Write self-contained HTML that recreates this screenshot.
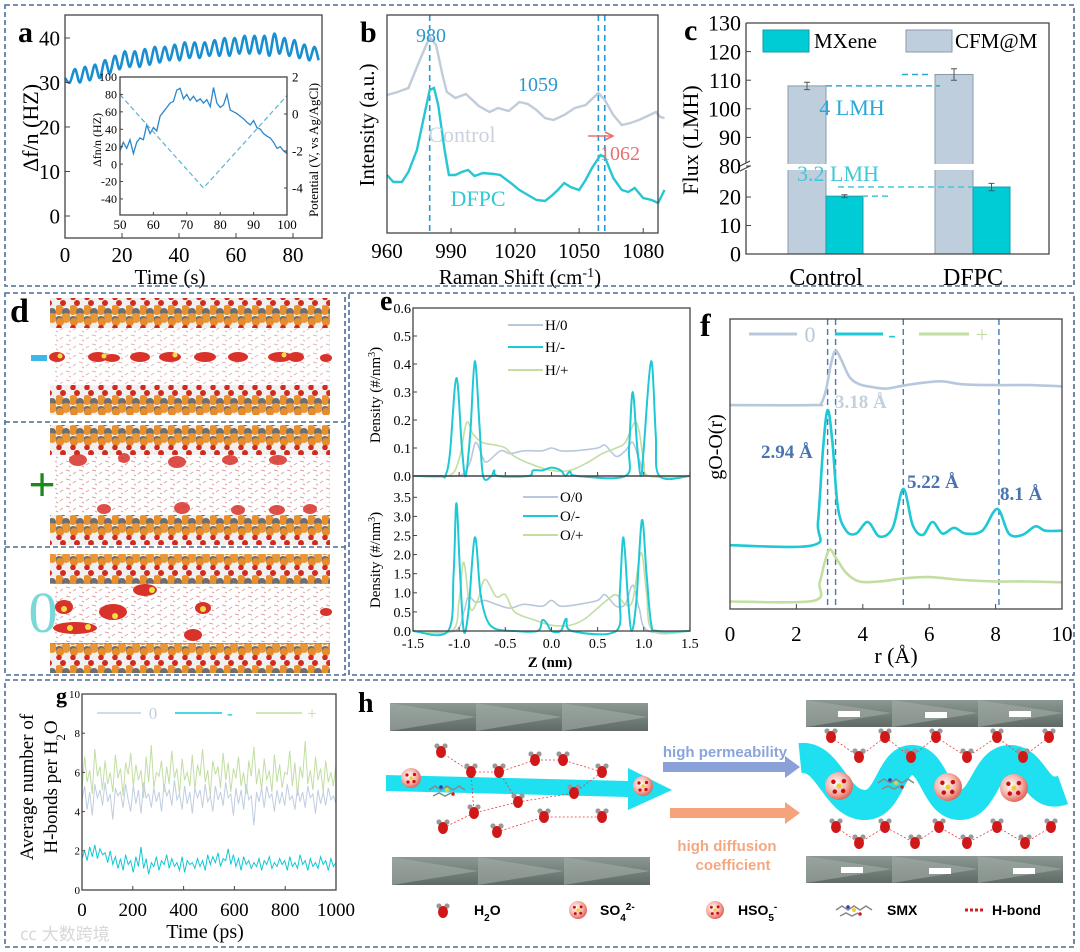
<!DOCTYPE html>
<html><head><meta charset="utf-8"><style>
html,body{margin:0;padding:0;background:#fff}
svg{display:block}
text{font-family:"Liberation Serif",serif}
.sans{font-family:"Liberation Sans",sans-serif}
</style></head><body>
<svg id="s" width="1080" height="952" viewBox="0 0 1080 952" xmlns="http://www.w3.org/2000/svg">
<defs>
<pattern id="mx" width="14" height="30" patternUnits="userSpaceOnUse">
<rect width="14" height="30" fill="#f0f0f0"/>
<circle cx="7" cy="3" r="3" fill="#d42a1e"/>
<circle cx="3" cy="10" r="5" fill="#e8902e"/>
<circle cx="10" cy="12" r="4" fill="#6e6e6e"/>
<circle cx="10" cy="18" r="5" fill="#ea9634"/>
<circle cx="3" cy="20" r="4" fill="#707070"/>
<circle cx="4" cy="22" r="4" fill="#e68c2c"/>
<circle cx="3" cy="27.5" r="2.8" fill="#d42a1e"/>
</pattern>
<pattern id="wat" width="13" height="9" patternUnits="userSpaceOnUse">
<path d="M1,2 l4,1 M8,6 l3,-2 M4,7 l2,1" stroke="#e0a0a0" stroke-width="1"/>
</pattern>
<linearGradient id="slab" x1="0" y1="0" x2="0" y2="1"><stop offset="0" stop-color="#8c9892"/><stop offset="1" stop-color="#5f6a66"/></linearGradient>
<radialGradient id="sph" cx="0.4" cy="0.4" r="0.6"><stop offset="0" stop-color="#fff"/><stop offset="0.6" stop-color="#f5b6ae"/><stop offset="1" stop-color="#e06a5c"/></radialGradient>
</defs>
<g id="frames" fill="none" stroke="#4f6d94" stroke-width="1.6" stroke-dasharray="5,3">
<rect x="5" y="5" width="1069" height="281"/>
<rect x="5" y="293" width="340" height="382"/>
<line x1="5" y1="422" x2="345" y2="422"/>
<line x1="5" y1="547" x2="345" y2="547"/>
<rect x="349" y="293" width="725" height="382"/>
<rect x="5" y="680" width="1069" height="267"/>
</g>
<text x="18" y="42" font-size="30" font-weight="bold">a</text>
<text x="360" y="42" font-size="30" font-weight="bold">b</text>
<text x="684" y="40" font-size="30" font-weight="bold">c</text>
<text x="10" y="322" font-size="34" font-weight="bold">d</text>
<text x="380" y="310" font-size="28" font-weight="bold">e</text>
<text x="700" y="336" font-size="32" font-weight="bold">f</text>
<text x="56" y="703" font-size="22" font-weight="bold">g</text>
<text x="358" y="712" font-size="28" font-weight="bold">h</text>

<text transform="translate(38,128) rotate(-90)" text-anchor="middle" font-size="22">Δf/n (HZ)</text>
<text x="170" y="284" text-anchor="middle" font-size="21">Time (s)</text>
<text transform="translate(374,125) rotate(-90)" text-anchor="middle" font-size="21">Intensity (a.u.)</text>
<text x="520" y="284" text-anchor="middle" font-size="21">Raman Shift (cm<tspan baseline-shift="super" font-size="14">-1</tspan>)</text>
<text transform="translate(698,140) rotate(-90)" text-anchor="middle" font-size="22">Flux (LMH)</text>
<text transform="translate(380,395) rotate(-90)" text-anchor="middle" font-size="15">Density (#/nm<tspan baseline-shift="super" font-size="10">3</tspan>)</text>
<text transform="translate(380,560) rotate(-90)" text-anchor="middle" font-size="15">Density (#/nm<tspan baseline-shift="super" font-size="10">3</tspan>)</text>
<text x="550" y="667" text-anchor="middle" font-size="15" font-weight="bold">Z (nm)</text>
<text transform="translate(722,447) rotate(-90)" text-anchor="middle" font-size="20">gO-O(r)</text>
<text x="896" y="663" text-anchor="middle" font-size="22">r (Å)</text>
<text transform="translate(33,787) rotate(-90)" text-anchor="middle" font-size="19">Average number of</text>
<text transform="translate(57,787) rotate(-90)" text-anchor="middle" font-size="19">H-bonds per H<tspan baseline-shift="sub" font-size="13">2</tspan>O</text>
<text x="205" y="938" text-anchor="middle" font-size="20">Time (ps)</text>
<text x="20" y="940" font-size="17" fill="#d8d8d8" class="sans">㏄ 大数跨境</text>

<g id="pd">
<rect x="55" y="328" width="275" height="56" fill="url(#wat)" opacity="0.8"/>
<rect x="55" y="456" width="275" height="58" fill="url(#wat)"/>
<rect x="55" y="586" width="275" height="56" fill="url(#wat)"/>
<rect x="50" y="298" width="280" height="30" fill="url(#mx)"/>
<rect x="50" y="385" width="280" height="30" fill="url(#mx)"/>
<rect x="50" y="425" width="280" height="30" fill="url(#mx)"/>
<rect x="50" y="515" width="280" height="30" fill="url(#mx)"/>
<rect x="50" y="554" width="280" height="30" fill="url(#mx)"/>
<rect x="50" y="643" width="280" height="30" fill="url(#mx)"/>
<g fill="#d8322a">
<ellipse cx="57" cy="357" rx="8" ry="5"/><ellipse cx="98" cy="357" rx="10" ry="5"/><ellipse cx="112" cy="358" rx="8" ry="4"/>
<ellipse cx="140" cy="357" rx="10" ry="5"/><ellipse cx="170" cy="357" rx="11" ry="5"/><ellipse cx="205" cy="357" rx="11" ry="5"/>
<ellipse cx="238" cy="357" rx="10" ry="5"/><ellipse cx="280" cy="357" rx="12" ry="5"/><ellipse cx="296" cy="357" rx="8" ry="5"/><ellipse cx="326" cy="358" rx="6" ry="4"/>
</g>
<g fill="#f0e040"><circle cx="60" cy="356" r="2.5"/><circle cx="104" cy="356" r="2.5"/><circle cx="175" cy="355" r="2.5"/><circle cx="284" cy="355" r="2.5"/></g>
<rect x="31" y="355" width="16" height="6" fill="#3cb8e8"/>
<g fill="#d8322a" opacity="0.85">
<ellipse cx="78" cy="460" rx="9" ry="6"/><ellipse cx="124" cy="458" rx="6" ry="5"/><ellipse cx="177" cy="462" rx="9" ry="6"/><ellipse cx="230" cy="460" rx="8" ry="5"/><ellipse cx="278" cy="460" rx="9" ry="5"/>
<ellipse cx="104" cy="509" rx="7" ry="5"/><ellipse cx="182" cy="508" rx="8" ry="6"/><ellipse cx="238" cy="510" rx="7" ry="5"/><ellipse cx="277" cy="510" rx="8" ry="5"/><ellipse cx="310" cy="509" rx="7" ry="5"/>
</g>
<text x="42" y="500" text-anchor="middle" font-size="46" fill="#1a8a1a" class="sans">+</text>
<g>
<ellipse cx="145" cy="590" rx="12" ry="6" fill="#d8322a"/><circle cx="152" cy="590" r="3" fill="#f0e040"/>
<ellipse cx="64" cy="607" rx="9" ry="7" fill="#d8322a"/><circle cx="64" cy="609" r="3" fill="#f0e040"/>
<ellipse cx="113" cy="612" rx="14" ry="8" fill="#d8322a"/><circle cx="115" cy="616" r="3" fill="#f0e040"/>
<ellipse cx="203" cy="608" rx="8" ry="6" fill="#d8322a"/><circle cx="203" cy="609" r="3" fill="#f0e040"/>
<ellipse cx="75" cy="628" rx="22" ry="6" fill="#d8322a"/><circle cx="70" cy="628" r="3" fill="#f0e040"/><circle cx="88" cy="627" r="3" fill="#f0e040"/>
<ellipse cx="193" cy="635" rx="9" ry="6" fill="#d8322a"/><ellipse cx="326" cy="612" rx="6" ry="4" fill="#d8322a"/>
</g>
<text x="43" y="632" text-anchor="middle" font-size="58" fill="#7ad8d8">0</text>
</g>

<g id="ph">
<g><rect x="390" y="703" width="258" height="28" fill="url(#slab)"/><path d="M390,703 L476,717 L390,731Z M476,703 L562,717 L476,731Z M562,703 L648,717 L562,731Z" fill="#a3ada8" opacity="0.6"/></g>
<g><rect x="392" y="857" width="258" height="28" fill="url(#slab)"/><path d="M392,857 L478,871 L392,885Z M478,857 L564,871 L478,885Z M564,857 L650,871 L564,885Z" fill="#a3ada8" opacity="0.6"/></g>
<g><rect x="806" y="700" width="257" height="27" fill="url(#slab)"/><path d="M806,700 L892,713 L806,727Z M892,700 L978,713 L892,727Z M978,700 L1063,713 L978,727Z" fill="#a3ada8" opacity="0.6"/>
<rect x="838" y="711" width="22" height="6" fill="#fff"/><rect x="925" y="712" width="22" height="6" fill="#fff"/><rect x="1009" y="711" width="22" height="6" fill="#fff"/></g>
<g><rect x="806" y="856" width="257" height="27" fill="url(#slab)"/><path d="M806,856 L892,869 L806,883Z M892,856 L978,869 L892,883Z M978,856 L1063,869 L978,883Z" fill="#a3ada8" opacity="0.6"/>
<rect x="841" y="867" width="22" height="6" fill="#fff"/><rect x="929" y="868" width="22" height="6" fill="#fff"/><rect x="1013" y="868" width="22" height="6" fill="#fff"/></g>
<path d="M386,775 L628,781 L628,768 L672,790 L628,810 L628,797 L386,791Z" fill="#1ee0f0"/>
<path d="M800,758 C830,755 835,805 865,805 C890,805 890,760 912,760 C935,760 935,805 960,805 C985,805 985,760 1010,760 C1035,760 1035,800 1063,790" fill="none" stroke="#1ee0f0" stroke-width="30"/>
<text x="725" y="757" text-anchor="middle" font-size="15" font-weight="bold" fill="#8aa4dc" class="sans">high permeability</text>
<path d="M663,762 L785,762 L785,756 L800,767 L785,778 L785,772 L663,772Z" fill="#8aa0d8"/>
<path d="M670,808 L785,808 L785,802 L800,813 L785,824 L785,818 L670,818Z" fill="#f4a37c"/>
<text x="727" y="851" text-anchor="middle" font-size="15" font-weight="bold" fill="#f4a882" class="sans">high diffusion</text>
<text x="733" y="870" text-anchor="middle" font-size="15" font-weight="bold" fill="#f4a882" class="sans">coefficient</text>
<g id="hmol"></g>
<g class="sans" font-size="14" font-weight="bold">
<text x="474" y="915" class="sans">H<tspan baseline-shift="sub" font-size="10">2</tspan>O</text>
<text x="600" y="915" class="sans">SO<tspan baseline-shift="sub" font-size="10">4</tspan><tspan baseline-shift="super" font-size="10">2-</tspan></text>
<text x="738" y="915" class="sans">HSO<tspan baseline-shift="sub" font-size="10">5</tspan><tspan baseline-shift="super" font-size="10">-</tspan></text>
<text x="887" y="915" class="sans">SMX</text>
<line x1="965" y1="910" x2="985" y2="910" stroke="#d02020" stroke-width="3" stroke-dasharray="3,2"/>
<text x="992" y="915" class="sans">H-bond</text>
</g>
</g>
<g id="charts"></g>
</svg>
<script>
// ---------- DATA ----------
const aTime=[0,1.7,3.5,5.2,7,8.7,10.5,12.2,14,15.7,17.5,19.2,21,22.7,24.5,26.2,28,29.7,31.5,33.2,35,36.7,38.5,40.2,42,43.7,45.5,47.2,49,50.7,52.5,54.2,56,57.7,59.5,61.2,63,64.7,66.5,68.2,70,71.7,73.5,75.2,77,78.7,80.5,82.2,84,85.7,87.5,89];
const aFreq=[31,30,33,30,33.5,30.5,34,31,35,32,36,33,37,33.5,37,33.5,37.5,34,38,34.5,38,35,38.5,35,39,35.5,39,35.5,39,36,39.5,36,40,36,40,36.5,40.5,36.5,40.5,36.5,40.5,36,41,36.5,40,36,39.5,35.5,38.5,35,38,35];
const insetTime=[50,51,52,53,54,55,56,57,58,59,60,61,62,63,64,65,66,67,68,69,70,71,72,73,74,75,76,77,78,79,80,81,82,83,84,85,86,87,88,89,90,91,92,93,94,95,96,97,98,99,100];
const insetFreq=[15,25,18,28,12,25,30,28,45,35,42,38,55,60,65,70,72,85,87,75,80,73,78,72,75,70,74,66,88,70,65,68,80,62,60,58,55,52,48,45,50,42,40,35,32,30,25,18,20,15,12];
const insetPotTime=[50,75,100];
const insetPotential=[1.05,-4,1.0];
const bShift=[960,965,970,975,980,983,986,988,992,997,1000,1003,1008,1012,1017,1022,1026,1030,1034,1038,1043,1048,1053,1057,1059,1062,1066,1070,1074,1078,1082,1086,1088,1090];
const bControl=[138,141,145,171,196,188,158,141,135,139,133,127,121,125,122,131,129,123,115,113,118,125,128,136,140,133,118,108,110,113,117,121,116,115];
const bShiftD=[960,963,967,970,974,978,980,982,984,987,989,992,995,998,1001,1005,1010,1013,1018,1022,1026,1030,1034,1037,1040,1043,1046,1050,1053,1056,1060,1062,1066,1070,1073,1076,1080,1084,1087,1090];
const bDFPC=[58,51,51,61,83,123,143,145,128,83,58,58,61,63,57,60,59,58,50,43,38,33,32,37,43,50,46,43,53,65,78,76,55,43,41,45,35,33,30,43];
const cGroups=["Control","DFPC"];
const cMXene=[20.3,23.5];
const cMXeneErr=[0.5,1.3];
const cCFM=[108,112];
const cCFMErr=[1.3,2.0];
const eH0z=[-1.05,-0.95,-0.88,-0.82,-0.75,-0.7,-0.55,-0.45,-0.3,-0.1,0,0.1,0.25,0.5,0.58,0.7,0.8,0.88,0.95,1.05];
const eH0=[0,0.01,0.05,0.12,0.07,0.05,0.09,0.08,0.09,0.09,0.1,0.09,0.09,0.1,0.11,0.07,0.09,0.12,0.06,0];
const eHmz=[-1.2,-1.15,-1.1,-1.03,-0.97,-0.93,-0.88,-0.83,-0.78,-0.74,-0.65,-0.62,-0.58,-0.25,-0.2,-0.1,0,0.1,0.15,0.2,0.28,0.8,0.84,0.88,0.93,0.97,1.0,1.08,1.13,1.17];
const eHm=[0,0,0.08,0.35,0.1,0,0.15,0.41,0.18,0,0,0.02,0,0,0.02,0.02,0.03,0.02,0,0.015,0,0,0.1,0.3,0.1,0,0.1,0.41,0.15,0];
const eHpz=[-1.12,-1.0,-0.92,-0.85,-0.75,-0.6,-0.5,-0.4,-0.2,0,0.2,0.4,0.55,0.7,0.8,0.9,0.95,1.0,1.06];
const eHp=[0,0.06,0.19,0.15,0.12,0.11,0.1,0.07,0.04,0.02,0.02,0.05,0.08,0.1,0.12,0.19,0.16,0.05,0];
const eO0z=[-1.05,-0.95,-0.9,-0.82,-0.72,-0.6,-0.45,-0.3,-0.1,0,0.1,0.3,0.5,0.58,0.7,0.8,0.88,0.95,1.05];
const eO0=[0,0.5,0.9,0.75,0.8,0.7,0.6,0.7,0.65,0.8,0.65,0.7,0.8,0.95,0.65,0.7,1.2,0.6,0];
const eOmz=[-1.12,-1.06,-1.03,-0.99,-0.95,-0.9,-0.83,-0.77,-0.7,-0.6,-0.4,-0.15,-0.1,-0.05,0,0.1,0.16,0.22,0.7,0.74,0.78,0.83,0.87,0.92,0.98,1.03,1.08,1.15];
const eOm=[0,1.5,3.35,1.5,0,0.5,2.45,1.0,0.3,0.05,0,0,0.28,0.2,0,0,0.32,0,0,1.0,2.45,0.8,0,0.8,2.9,1.5,0.2,0];
const eOpz=[-1.08,-1.0,-0.95,-0.88,-0.8,-0.72,-0.6,-0.5,-0.4,-0.2,0,0.2,0.35,0.5,0.6,0.7,0.8,0.88,0.97,1.03,1.1];
const eOp=[0,0.8,1.8,0.6,0.8,1.35,0.9,0.95,0.5,0.3,0.15,0.15,0.3,0.6,0.8,0.95,0.7,0.8,2.05,1.0,0];
const fR0=[0,2.5,2.75,2.9,3.05,3.18,3.35,3.6,3.9,4.3,4.7,5.2,5.8,6.4,7,8,9,10];
const fG0=[7.03,7.03,7.1,7.6,8.5,8.9,8.6,8.0,7.75,7.65,7.6,7.7,7.8,7.85,7.75,7.72,7.72,7.68];
const fRm=[0,2.5,2.65,2.8,2.94,3.08,3.25,3.5,3.8,4.15,4.5,4.9,5.22,5.5,5.8,6.1,6.4,6.75,7.1,7.6,8.05,8.4,8.8,9.2,9.5,10];
const fGm=[2.2,2.2,3.0,5.5,6.86,5.8,3.5,2.7,2.6,3.0,2.5,2.8,4.14,2.9,2.55,3.0,2.6,2.8,2.6,2.7,3.45,2.6,2.55,2.85,2.7,2.7];
const fRp=[0,2.5,2.7,2.85,3.0,3.2,3.5,3.9,4.5,5.2,6,7,8,9,10];
const fGp=[0.26,0.28,0.9,1.6,2.05,1.75,1.25,0.95,0.95,1.05,1.1,1.0,0.95,0.95,0.92];
const fPeaks=[2.94,3.18,5.22,8.1];
const gPlus=[5.2,6.8,5.5,6.1,4.9,7.2,5.8,6.3,5.1,6.6,5.4,6.0,5.0,6.9,5.7,6.2,4.8,6.5,5.9,7.0,5.3,6.4,5.6,6.1,4.7,6.8,5.5,7.4,5.2,6.0,5.8,6.6,5.0,6.3,5.4,7.1,5.7,6.2,4.9,6.7,5.6,6.0,5.3,6.9,5.1,6.4,5.8,7.2,5.5,6.1,4.8,6.6,5.9,6.3,5.2,7.0,5.6,6.5,5.0,6.2,5.7,6.8,5.3,6.0,4.9,6.6,5.8,7.3,5.4,6.2,5.1,6.7,5.6,6.1,5.0,6.9,5.5,6.4,5.2,6.0,5.9,7.1,5.3,6.5,4.8,6.3,5.7,7.6,5.4,6.1,5.1,6.8,5.6,6.2,5.0,6.6,5.5,6.0,5.3,6.4];
const gZero=[4.6,5.3,4.1,5.0,3.8,5.4,4.7,5.1,4.3,5.5,4.5,4.9,3.6,5.2,4.8,5.0,4.2,5.4,4.6,4.0,5.3,4.4,5.1,3.9,5.5,4.7,4.9,4.2,5.2,4.5,5.0,4.0,5.4,4.8,5.1,4.3,5.6,4.6,4.9,4.1,5.3,4.4,5.0,3.9,5.2,4.7,5.1,4.2,5.4,4.5,4.8,4.0,5.3,4.6,5.0,4.3,5.5,4.7,4.9,3.8,5.2,4.4,5.1,4.1,5.4,4.6,4.8,3.3,5.0,4.5,5.2,4.2,5.3,4.7,4.9,4.0,5.1,4.4,5.0,4.3,5.4,4.6,4.8,4.1,5.2,4.5,5.0,4.2,5.3,4.7,4.9,3.9,5.1,4.4,5.0,4.3,5.2,4.6,4.8,4.4];
const gMinus=[1.6,2.0,1.5,2.2,1.7,2.3,1.6,2.1,1.8,1.9,1.4,2.0,1.3,1.7,1.1,1.6,1.0,1.8,1.3,1.5,0.9,1.7,1.2,2.2,1.1,1.6,0.8,1.4,1.2,1.7,1.0,1.5,1.3,1.8,1.1,1.6,1.2,1.4,1.0,1.7,0.9,1.5,1.3,1.4,1.1,1.6,1.2,1.5,1.0,1.8,1.3,1.7,1.4,1.9,1.2,1.6,1.5,2.1,1.3,1.8,1.2,1.6,1.0,1.7,1.3,1.5,1.1,1.4,1.2,1.6,1.0,1.5,1.3,1.7,1.1,1.4,1.2,1.6,1.3,1.5,1.0,1.7,1.2,1.4,1.1,1.8,1.3,1.5,1.0,1.6,1.2,1.4,1.1,1.7,1.3,1.5,1.0,1.6,1.2,1.4];

// ---------- HELPERS ----------
const NS="http://www.w3.org/2000/svg";
const root=document.getElementById('charts');
function mk(tag,attrs,parent){const el=document.createElementNS(NS,tag);for(const k in attrs)el.setAttribute(k,attrs[k]);(parent||root).appendChild(el);return el;}
function txt(x,y,s,size,anchor,parent,extra){const t=mk('text',Object.assign({x:x,y:y,'font-size':size,'text-anchor':anchor||'middle'},extra||{}),parent);t.textContent=s;return t;}
function smoothD(xs,ys,sx,sy){const p=xs.map((x,i)=>[sx(x),sy(ys[i])]);const n=p.length;let d='M'+p[0][0].toFixed(1)+','+p[0][1].toFixed(1);
 for(let i=0;i<n-1;i++){const p0=p[Math.max(i-1,0)],p1=p[i],p2=p[i+1],p3=p[Math.min(i+2,n-1)];
 const c1=[p1[0]+(p2[0]-p0[0])/6,p1[1]+(p2[1]-p0[1])/6],c2=[p2[0]-(p3[0]-p1[0])/6,p2[1]-(p3[1]-p1[1])/6];
 d+='C'+c1[0].toFixed(1)+','+c1[1].toFixed(1)+' '+c2[0].toFixed(1)+','+c2[1].toFixed(1)+' '+p2[0].toFixed(1)+','+p2[1].toFixed(1);}return d;}
function lineD(xs,ys,sx,sy){return xs.map((x,i)=>(i?'L':'M')+sx(x).toFixed(1)+','+sy(ys[i]).toFixed(1)).join('');}
function frame(x,y,w,h,g){return mk('rect',{x:x,y:y,width:w,height:h,fill:'none',stroke:'#444','stroke-width':1.3},g);}
function xticks(vals,sx,y,len,fs,ly,g,fmt){vals.forEach(v=>{mk('line',{x1:sx(v),x2:sx(v),y1:y,y2:y+len,stroke:'#444'},g);if(fs)txt(sx(v),ly,fmt?fmt(v):String(v),fs,'middle',g);});}
function yticks(vals,sy,x,len,fs,lx,g,fmt,anchor){vals.forEach(v=>{mk('line',{x1:x,x2:x+len,y1:sy(v),y2:sy(v),stroke:'#444'},g);if(fs)txt(lx,sy(v)+fs*0.35,fmt?fmt(v):String(v),fs,anchor||'end',g);});}

// ---------- PANEL A ----------
const ga=mk('g',{});


const xA=t=>65+t*2.85, yA=v=>216-v*4.45;
const pA=mk('path',{d:smoothD(aTime,aFreq,xA,yA),fill:'none',stroke:'#1a8fd0','stroke-width':2.6},ga);


frame(65,15,257,223,ga);
xticks([0,20,40,60,80],xA,238,-5,21,262,ga);
yticks([0,10,20,30,40],yA,65,5,21,60,ga);
const xI=t=>120+(t-50)*3.34, yI=v=>77+(100-v)*0.871, yP=v=>77+(2-v)*18.5;
mk('rect',{x:120,y:77,width:167,height:138,fill:'#fff'},ga);
const pI=mk('path',{d:lineD(insetTime,insetFreq,xI,yI),fill:'none',stroke:'#2a88cc','stroke-width':1.3},ga);


const pP=mk('path',{d:lineD(insetPotTime,insetPotential,xI,yP),fill:'none',stroke:'#5ab4d4','stroke-width':1.2,'stroke-dasharray':'5,3'},ga);


frame(120,77,167,138,ga);
xticks([50,60,70,80,90,100],xI,215,-3,13,229,ga);
yticks([100,80,60,40,20,0,-20,-40],yI,120,3,12,117,ga);
yticks([2,0,-2,-4],yP,287,-3,13,292,ga,null,'start');
txt(0,0,'Δfn/n (HZ)',12,'middle',ga,{transform:'translate(101,140) rotate(-90)'});
txt(0,0,'Potential (V, vs Ag/AgCl)',13,'middle',ga,{transform:'translate(318,150) rotate(-90)'});

// ---------- PANEL B ----------
const gb=mk('g',{});


const xB=s=>387+(s-960)*2.135, yB=v=>233-v;
[980,1059,1062].forEach(s=>{const l=mk('line',{x1:xB(s),x2:xB(s),y1:15,y2:233,stroke:'#2a98d0','stroke-width':1.6,'stroke-dasharray':'6,4'},gb);

});
const bc=mk('path',{d:lineD(bShift,bControl,xB,yB),fill:'none',stroke:'#c0ccda','stroke-width':2.4},gb);


const bd=mk('path',{d:lineD(bShiftD,bDFPC,xB,yB),fill:'none',stroke:'#26c6d2','stroke-width':2.4},gb);


frame(387,15,271,218,gb);
xticks([960,990,1020,1050,1080],xB,233,-5,21,258,gb);
txt(416,42,'980',20,'start',gb,{fill:'#2a98d0'});
txt(518,91,'1059',20,'start',gb,{fill:'#2a98d0'});
txt(600,160,'1062',20,'start',gb,{fill:'#e87070'});
mk('path',{d:'M588,136 L612,136 M605,132 L613,136 L605,140',stroke:'#e87070','stroke-width':1.6,fill:'none'},gb);
txt(462,142,'Control',22,'middle',gb,{fill:'#c8d2de'});
txt(478,206,'DFPC',22,'middle',gb,{fill:'#30cad4'});

// ---------- PANEL C ----------
const gc=mk('g',{});


const yLow=v=>254-v*2.85, yUp=v=>166-(v-80)*2.86;
const yC=v=>v<=30?yLow(v):yUp(v);
const xC=i=>826+i*147;
cGroups.forEach((g,i)=>{
 const cx=xC(i);
 const b1=mk('rect',{x:cx-38,y:yC(cCFM[i]),width:38,height:254-yC(cCFM[i]),fill:'#bfcedd',stroke:'#8a9aaa','stroke-width':1},gc);
 
 
 const b2=mk('rect',{x:cx,y:yC(cMXene[i]),width:37,height:254-yC(cMXene[i]),fill:'#00ccd6',stroke:'#1a9aa8','stroke-width':1},gc);
 
 
 [[cx-19,cCFM[i],cCFMErr[i]],[cx+18.5,cMXene[i],cMXeneErr[i]]].forEach(e=>{
  mk('path',{d:'M'+e[0]+','+yC(e[1]+e[2])+'V'+yC(e[1]-e[2])+'M'+(e[0]-3)+','+yC(e[1]+e[2])+'h6M'+(e[0]-3)+','+yC(e[1]-e[2])+'h6',stroke:'#555','stroke-width':1,fill:'none'},gc);});
 txt(cx,285,g,24,'middle',gc);
});
mk('rect',{x:747,y:164,width:301,height:6,fill:'#fff'},gc);
mk('path',{d:'M746,23V163M746,170V254H1049V23H746',fill:'none',stroke:'#444','stroke-width':1.3},gc);
mk('path',{d:'M740,166l10,-5M740,171l10,-5',stroke:'#444','stroke-width':1.2},gc);
yticks([0,10,20],yLow,746,5,22,741,gc);
yticks([80,90,100,110,120,130],yUp,746,5,22,741,gc);
mk('path',{d:'M826,'+yC(108)+'H940M902,'+yC(112)+'H928',stroke:'#2aa8d8','stroke-width':1.5,'stroke-dasharray':'6,4',fill:'none'},gc);
mk('path',{d:'M862,'+yC(20.3)+'H888M838,'+yC(23.5)+'H973',stroke:'#40c8d8','stroke-width':1.5,'stroke-dasharray':'6,4',fill:'none'},gc);
txt(852,115,'4 LMH',22,'middle',gc,{fill:'#2aa8d8'});
txt(838,181,'3.2 LMH',22,'middle',gc,{fill:'#40c8d8'});
const lg1=mk('rect',{x:763,y:30,width:46,height:22,fill:'#00ccd6',stroke:'#1a9aa8'},gc);


txt(814,48,'MXene',21,'start',gc);
const lg2=mk('rect',{x:906,y:30,width:46,height:22,fill:'#bfcedd',stroke:'#8a9aaa'},gc);


txt(955,48,'CFM@M',21,'start',gc);

// ---------- PANEL E ----------
const ge=mk('g',{});


const xE=z=>413+(z+1.5)*92.3, yEu=v=>476-v*280, yEl=v=>631-v*38.2;
const gray='#b8c8dc', cyan='#1ec8d4', green='#c2dea2';
[[eH0z,eH0,gray,'e-h0-line',yEu],[eHpz,eHp,green,'e-hplus-line',yEu],[eHmz,eHm,cyan,'e-hminus-line',yEu],
 [eO0z,eO0,gray,'e-o0-line',yEl],[eOpz,eOp,green,'e-oplus-line',yEl],[eOmz,eOm,cyan,'e-ominus-line',yEl]].forEach(s=>{
 const xs=[-1.5].concat(s[0],[1.5]), ys=[0].concat(s[1],[0]);
 const p=mk('path',{d:smoothD(xs,ys,xE,s[4]),fill:'none',stroke:s[2],'stroke-width':s[2]===cyan?2:1.6},ge);
 
 
});
frame(413,308,277,168,ge);frame(413,476,277,155,ge);
xticks([-1.5,-1.0,-0.5,0,0.5,1.0,1.5],xE,631,-4,14,648,ge,v=>v.toFixed(1));
xticks([-1.5,-1.0,-0.5,0,0.5,1.0,1.5],xE,476,-4,0,0,ge);
yticks([0,0.1,0.2,0.3,0.4,0.5,0.6],yEu,413,4,14,411,ge,v=>v.toFixed(1));
yticks([0,0.5,1,1.5,2,2.5,3,3.5],yEl,413,4,14,411,ge,v=>v.toFixed(1));
[['H/0',gray,325],['H/-',cyan,347],['H/+',green,370]].forEach(l=>{mk('line',{x1:508,x2:543,y1:l[2],y2:l[2],stroke:l[1],'stroke-width':2},ge);txt(545,l[2]+5,l[0],15,'start',ge);});
[['O/0',gray,497],['O/-',cyan,516],['O/+',green,535]].forEach(l=>{mk('line',{x1:523,x2:558,y1:l[2],y2:l[2],stroke:l[1],'stroke-width':2},ge);txt(560,l[2]+5,l[0],15,'start',ge);});

// ---------- PANEL F ----------
const gf=mk('g',{});


const xF=r=>730+r*33.2, yF=v=>609-v*29;
fPeaks.forEach(r=>{const l=mk('line',{x1:xF(r),x2:xF(r),y1:319,y2:609,stroke:'#4a78b0','stroke-width':1.4,'stroke-dasharray':'6,4'},gf);
 
 });
[[fR0,fG0,gray,'f-zero-line'],[fRm,fGm,cyan,'f-minus-line'],[fRp,fGp,green,'f-plus-line']].forEach(s=>{
 const p=mk('path',{d:smoothD(s[0],s[1],xF,yF),fill:'none',stroke:s[2],'stroke-width':2.6},gf);
 
 });
frame(730,319,332,290,gf);
xticks([0,2,4,6,8,10],xF,609,-5,21,641,gf);
[[749,797,gray,'0',810],[835,883,cyan,'-',892],[919,969,green,'+',982]].forEach(l=>{mk('line',{x1:l[0],x2:l[1],y1:334,y2:334,stroke:l[2],'stroke-width':3},gf);txt(l[4],342,l[3],22,'middle',gf,{fill:l[2]});});
txt(835,408,'3.18 Å',19,'start',gf,{fill:'#c4d0dc','font-weight':'bold'});
txt(761,458,'2.94 Å',19,'start',gf,{fill:'#4a74b0','font-weight':'bold'});
txt(907,488,'5.22 Å',19,'start',gf,{fill:'#4a74b0','font-weight':'bold'});
txt(1000,500,'8.1 Å',19,'start',gf,{fill:'#4a74b0','font-weight':'bold'});

// ---------- PANEL G ----------
const gg=mk('g',{});


const xG=t=>82+t*0.254, yG=v=>890-v*19.6;
[[gPlus,green,'g-plus-line'],[gZero,'#c0cee0','g-zero-line'],[gMinus,'#10c8d4','g-minus-line']].forEach(s=>{
 const ts=s[0].map((v,i)=>i*1000/(s[0].length-1));
 const p=mk('path',{d:lineD(ts,s[0],xG,yG),fill:'none',stroke:s[1],'stroke-width':1},gg);
 
 });
frame(82,694,254,196,gg);
xticks([0,200,400,600,800,1000],xG,890,-4,19,916,gg);
yticks([0,2,4,6,8,10],yG,82,3,11,80,gg);
[[97,141,'#c0cee0','0',153],[175,222,'#10c8d4','-',230],[256,302,green,'+',312]].forEach(l=>{mk('line',{x1:l[0],x2:l[1],y1:713,y2:713,stroke:l[2],'stroke-width':1.5},gg);txt(l[4],719,l[3],17,'middle',gg,{fill:l[2]});});

// ---------- PANEL H molecules ----------
const hm=document.getElementById('hmol');
function water(x,y,name){const g=mk('g',{},hm);
 
 
 mk('circle',{cx:x-4,cy:y-6,r:2.6,fill:'#999'},g);mk('circle',{cx:x+4,cy:y-6,r:2.6,fill:'#999'},g);
 mk('ellipse',{cx:x,cy:y,rx:5,ry:6,fill:'#d01818'},g);}
function sphere(x,y,r,name){const g=mk('g',{},hm);
 
 
 mk('circle',{cx:x,cy:y,r:r,fill:'url(#sph)'},g);
 mk('circle',{cx:x,cy:y,r:r*0.18,fill:'#e8d030'},g);
 [[-0.4,-0.3],[0.35,-0.35],[0.3,0.35],[-0.3,0.4]].forEach(o=>mk('circle',{cx:x+o[0]*r,cy:y+o[1]*r,r:r*0.16,fill:'#c81010'},g));}
function smx(x,y,name){const g=mk('g',{},hm);
 
 
 mk('path',{d:'M'+(x-14)+','+y+'l6,-4l6,4l6,-4l6,4l6,-4l6,4M'+(x-10)+','+(y+6)+'l6,-3l6,3l6,-3',stroke:'#888','stroke-width':1.5,fill:'none'},g);
 mk('circle',{cx:x-2,cy:y-3,r:1.8,fill:'#2040c0'},g);mk('circle',{cx:x+10,cy:y+4,r:1.8,fill:'#d02020'},g);mk('circle',{cx:x+4,cy:y,r:2,fill:'#e8d030'},g);}
mk('path',{d:'M441,752L471,772L499,772L535,760L563,760L602,772L574,793L518,802L474,813L443,828M497,832L544,817L602,817M471,772L474,813M499,772L518,802',stroke:'#e04040','stroke-width':0.8,'stroke-dasharray':'2,2',fill:'none'},hm);
mk('path',{d:'M831,737L859,757L885,737L911,757L936,737L967,757L997,737L1023,757L1049,737M836,827L859,843L885,827L915,843L939,827L967,843L997,827L1025,843L1051,827',stroke:'#e04040','stroke-width':0.8,'stroke-dasharray':'2,2',fill:'none'},hm);
[[441,752],[471,772],[499,772],[535,760],[563,760],[602,772],[574,793],[518,802],[474,813],[443,828],[497,832],[544,817],[602,817]].forEach(p=>water(p[0],p[1],'water-molecule'));
[831,859,885,911,936,967,997,1023,1049].forEach((x,i)=>water(x,i%2?757:737,'water-molecule'));
[836,859,885,915,939,967,997,1025,1051].forEach((x,i)=>water(x,i%2?843:827,'water-molecule'));
sphere(411,778,10,'sulfate-ion');sphere(643,786,10,'sulfate-ion');
sphere(839,786,14,'sulfate-ion');sphere(948,787,14,'sulfate-ion');sphere(1014,788,14,'sulfate-ion');
smx(443,790,'smx-molecule');smx(892,783,'smx-molecule');
water(443,912,'legend-water');sphere(578,910,9,'legend-so4');sphere(715,910,9,'legend-hso5');smx(850,910,'legend-smx');
</script>
</body></html>
